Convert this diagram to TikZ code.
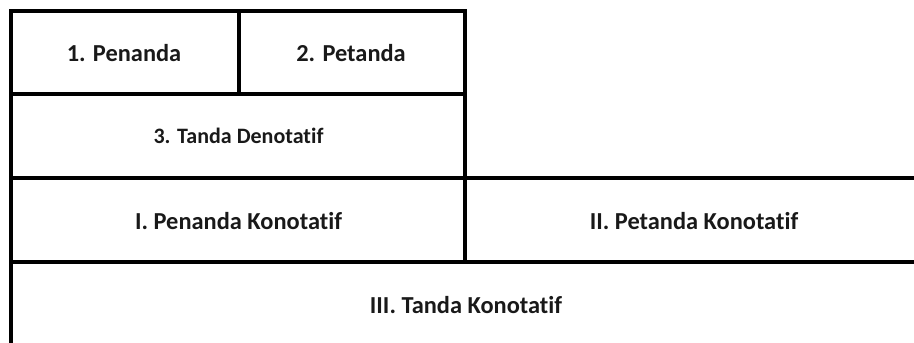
\documentclass[tikz,border=0pt]{standalone}
\usepackage{fontspec}
\setmainfont{Carlito}[Ligatures=NoCommon]
\begin{document}
\begin{tikzpicture}[x=1pt,y=-1pt,
  rule/.style={line width=3.4pt,line cap=rect},
  label/.style={font=\bfseries\fontsize{24.4}{28}\selectfont,inner sep=0pt,anchor=base,text=black!90},
  smalllabel/.style={label,font=\bfseries\fontsize{22}{26}\selectfont}]
\useasboundingbox (0,0) rectangle (914,343);
% grid lines of the table
\draw[rule] (11,11) -- (465,11);
\draw[rule] (11,11) -- (11,345);
\draw[rule] (239,11) -- (239,94);
\draw[rule] (11,94) -- (465,94);
\draw[rule] (465,11) -- (465,262);
\draw[rule] (11,178) -- (916,178);
\draw[rule] (11,262) -- (916,262);
% cell texts
\node[label] (pen) at (124,61) {1. Penanda};
\node[label] (pet) at (351,61) {2. Petanda};
\node[smalllabel] (den) at (238.5,143) {3. Tanda Denotatif};
\node[label] (kpen) at (238.5,229) {I. Penanda Konotatif};
\node[label] (kpet) at (694,229) {II. Petanda Konotatif};
\node[label] (kt) at (466,313) {III. Tanda Konotatif};
\end{tikzpicture}
\end{document}
